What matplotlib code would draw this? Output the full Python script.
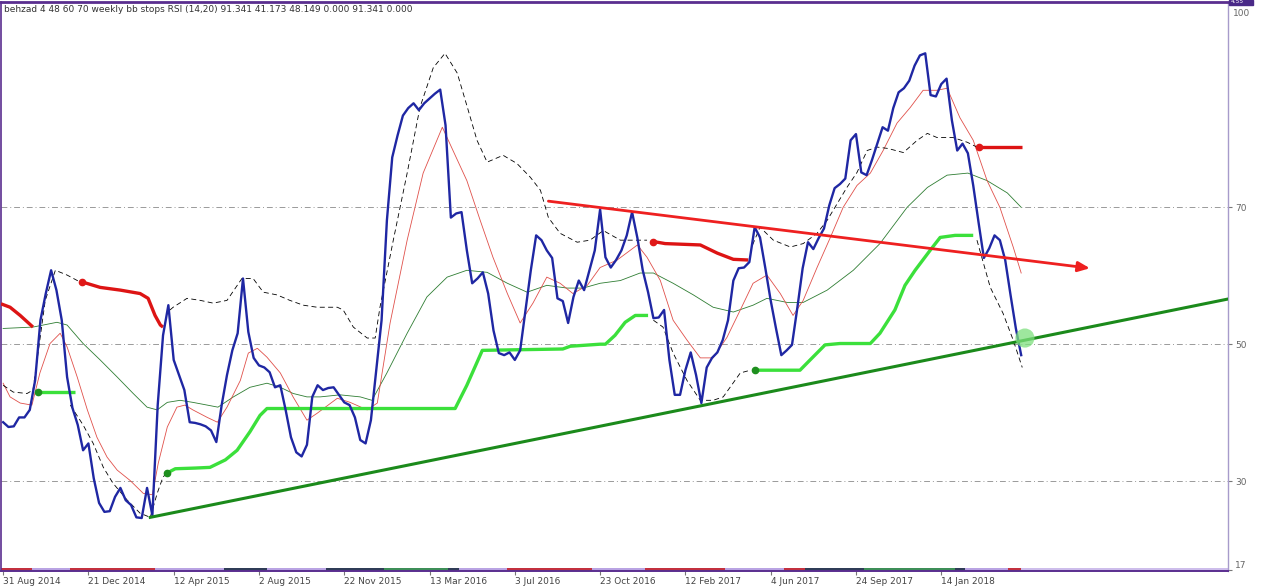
import numpy as np
import pandas as pd
import matplotlib
matplotlib.use("Agg")
import matplotlib.pyplot as plt
from matplotlib.patches import Rectangle

title = "behzad 4 48 60 70 weekly bb stops RSI (14,20) 91.341 41.173 48.149 0.000 91.341 0.000"
start_date = pd.Timestamp("2014-08-31")

# weekly RSI, one value per bar
rsi = [38.6, 37.9, 38.0, 39.3, 39.3, 40.4, 44.7, 53.5, 57.4, 60.8,
       57.9, 53.5, 45.2, 40.7, 38.2, 34.5, 35.5, 30.4, 26.8, 25.5,
       25.6, 27.7, 29.0, 27.2, 26.5, 24.7, 24.6, 29.0, 25.0, 41.1,
       51.3, 55.7, 47.7, 45.5, 43.3, 38.6, 38.5, 38.3, 38.0, 37.4,
       35.7, 41.1, 45.5, 49.1, 51.6, 59.6, 51.8, 48.0, 46.9, 46.6,
       45.9, 43.7, 44.0, 40.4, 36.4, 34.2, 33.6, 35.3, 42.3, 44.0,
       43.3, 43.6, 43.7, 42.6, 41.5, 41.1, 39.3, 36.0, 35.5, 38.9,
       46.2, 53.5, 68.1, 77.3, 80.5, 83.4, 84.5, 85.2, 84.2, 85.2,
       85.9, 86.6, 87.2, 82.0, 68.5, 69.1, 69.3, 63.7, 58.9, 59.6,
       60.5, 57.4, 52.0, 48.7, 48.4, 48.8, 47.7, 49.1, 55.0, 60.8,
       65.9, 65.2, 63.7, 62.6, 56.7, 56.3, 53.1, 56.9, 59.3, 57.9,
       60.8, 63.7, 69.7, 62.7, 61.2, 62.3, 63.7, 65.9, 69.3, 65.5,
       60.8, 57.6, 53.8, 53.9, 55.0, 47.7, 42.6, 42.6, 46.2, 48.8,
       45.5, 41.4, 46.6, 48.0, 48.8, 50.6, 53.5, 59.3, 61.1, 61.2,
       62.0, 67.1, 65.6, 61.1, 56.4, 52.3, 48.4, 49.1, 49.9, 55.3,
       61.1, 64.9, 63.9, 65.5, 66.9, 70.3, 72.8, 73.4, 74.2, 79.8,
       80.7, 75.1, 74.7, 76.9, 79.3, 81.7, 81.2, 84.5, 86.8, 87.4,
       88.5, 90.7, 92.2, 92.5, 86.4, 86.2, 88.0, 88.8, 82.7, 78.3,
       79.3, 77.9, 73.2, 67.8, 62.6, 64.0, 65.9, 65.2, 62.3, 57.2,
       52.3, 48.4]

# fast average of RSI (red thin)
fast_w = [0, 1.3, 3.2, 5.4, 6.9, 8.8, 10.7, 12, 13.9, 15.8, 17.6, 19.5, 21.4, 23.8,
          26.3, 28, 29.1, 30.8, 32.6, 34.1, 35.6, 38.3, 40.2, 42, 44.5, 46, 47.7, 49.5,
          52, 54.4, 57, 58.9, 62.7, 65.1, 68.3, 70.2, 72.6, 75.8, 78.8, 82.4, 84.4, 87,
          89.5, 91.9, 94.6, 97, 99.4, 102, 104.5, 106.9, 109.6, 112, 115.2, 119, 120.8,
          123.3, 125.7, 128.3, 130.8, 133.2, 135.8, 138.3, 140.7, 143.3, 145.8, 148.2,
          150.1, 152.7, 155.2, 157.6, 160.2, 162.7, 165.1, 167.7, 170.2, 172.6, 175.2,
          177.1, 179.5, 182, 184.6, 187, 189.5, 191]
fast_v = [44.3, 42.3, 41.4, 41.1, 45.8, 50.1, 51.6, 49.6, 45.2, 40.4, 36.4, 33.5, 31.6, 30.1,
          28.2, 28.0, 32.6, 37.9, 40.8, 41.1, 40.4, 39.3, 38.6, 40.8, 44.7, 48.7, 49.4, 48.1,
          45.8, 42.3, 38.9, 39.9, 42.1, 41.5, 40.4, 41.4, 53.1, 65.2, 75.0, 81.7, 78.3, 73.9,
          68.1, 62.7, 57.4, 53.1, 56.0, 59.8, 58.9, 57.4, 58.6, 61.2, 62.3, 64.5, 62.7,
          59.3, 53.5, 50.6, 48.0, 48.0, 51.0, 55.0, 58.9, 60.1, 57.4, 54.2,
          56.4, 61.2, 65.6, 70.0, 73.2, 75.0, 78.3, 82.3, 84.6, 87.1, 87.1,
          87.4, 83.1, 79.8, 73.9, 70.0, 64.2, 60.4]

# slow average of RSI (green thin)
slow_w = [0, 5.6, 10.1, 12, 15, 18.2, 21.4, 24.4, 27, 28.9, 30.8, 33.2, 35.6, 38.3, 40.3,
          43.2, 46.3, 49.5, 52, 54.4, 57, 59.5, 63.2, 67, 69.2, 72, 75.8, 79.5, 83.3, 87,
          90.8, 94.6, 98.3, 102, 105.8, 108.8, 112, 115.8, 119.5, 122, 125.7, 129.5, 133.2,
          137, 140.7, 143.3, 147.1, 150.1, 154.6, 159.5, 164.5, 169.6, 173.4, 177.1, 181,
          184.6, 188.4, 191]
slow_v = [52.3, 52.5, 53.2, 52.8, 50.1, 47.7, 45.2, 42.8, 40.8, 40.4, 41.5, 41.8, 41.5, 41.1,
          40.8, 42.3, 43.7, 44.3, 43.7, 42.8, 42.3, 42.3, 42.6, 42.3, 41.8, 45.8, 51.6, 56.9,
          59.8, 60.8, 60.5, 58.9, 57.6, 58.6, 58.2, 58.2, 58.9, 59.3, 60.4, 60.4, 58.9, 57.2,
          55.4, 54.7, 55.7, 56.7, 56.1, 56.1, 57.9, 60.8, 64.7, 70.0, 72.9, 74.7, 75.0,
          73.9, 72.1, 70.0]

# bollinger band pieces (black dashed)
bb_segments = [
    ([0, 1.9, 4.5, 5.6, 7.9, 9.8, 12, 14.4],
     [44.0, 43.0, 42.8, 43.3, 56.4, 60.8, 60.1, 59.1]),
    ([12.6, 15, 16.9, 18.8, 20.6, 23.3, 25.7, 27.6, 28.9, 30, 30.8],
     [41.1, 38.2, 35.5, 32.0, 29.7, 27.2, 25.3, 24.7, 28.2, 30.6, 31.2]),
    ([31.3, 31.9, 34.5, 37, 39.4, 42, 44.8, 46.9, 48.8, 51.4, 53.8, 56.3, 58.9, 62.7,
      63.8, 65.7, 68.3, 69.8, 70.7, 73.2, 75.8, 78.2, 80.7, 82.9, 85.2, 87.1, 88.9,
      90.8, 93.8, 96.4, 98.9, 100.8, 102.3, 104.5, 107.7, 110.1, 112.6, 115.8, 118.2, 120.8],
     [55.0, 55.4, 56.7, 56.4, 56.0, 56.4, 59.6, 59.6, 57.6, 57.2, 56.4, 55.7, 55.4, 55.4,
      55.0, 52.5, 50.9, 50.9, 55.4, 65.2, 75.0, 84.6, 90.4, 92.5, 89.6, 84.6, 79.8,
      76.6, 77.6, 76.4, 74.4, 72.5, 68.5, 66.2, 64.9, 65.2, 66.6, 65.2, 65.2, 65.2]),
    ([122, 123.8, 125.7, 128.3, 130.8, 133.2, 135.1, 138.3, 140.2],
     [53.5, 52.5, 48.7, 44.7, 41.8, 41.8, 42.3, 45.8, 46.2]),
    ([140.6, 142, 144.5, 147.7, 150.1, 152.7, 154.6, 158.3, 160.2, 162.1, 164, 166, 168.9,
      171.5, 173.4, 175.2, 178.2, 180.9, 182.7],
     [64.5, 67.1, 65.2, 64.2, 64.7, 66.2, 68.1, 72.9, 75.1, 78.3, 78.8, 78.6, 78.0,
      79.8, 80.8, 80.2, 80.2, 79.5, 78.8]),
    ([182.7, 185.2, 187.6, 189.5, 191.2],
     [65.2, 58.3, 54.5, 50.6, 46.6]),
]

# support stops (thick lime) and resistance stops (thick red)
support_stops = [
    ([6.6, 13.5], [43.0, 43.0]),
    ([30.8, 32.3, 36, 38.8, 41.7, 43.9, 46.3, 48.2, 49.5, 84.8, 87, 89.9, 105, 106.4,
      112, 113, 114.8, 116.7, 118.6, 121],
     [31.2, 31.8, 31.9, 32.0, 33.1, 34.5, 37.2, 39.6, 40.6, 40.6, 44.0, 49.1, 49.3, 49.7,
      50.0, 50.0, 51.3, 53.2, 54.2, 54.2]),
    ([141.1, 149.5, 151.4, 154.2, 157, 162.7, 164.5, 167.3, 169.2, 171.1, 173.9, 175.8,
      178.6, 182],
     [46.2, 46.2, 47.7, 49.9, 50.1, 50.1, 51.6, 55.0, 58.6, 60.8, 63.7, 65.6, 65.9, 65.9]),
]
resist_stops = [
    ([-0.4, 1.3, 3.2, 5.6], [55.9, 55.4, 54.2, 52.5]),
    ([14.8, 18.2, 22, 25.7, 27.2, 28.5, 29.5, 30], [59.1, 58.3, 57.9, 57.4, 56.7, 54.2, 52.8, 52.5]),
    ([122, 124.2, 130.8, 134, 137, 139.8], [65.0, 64.7, 64.5, 63.3, 62.4, 62.3]),
    ([183.1, 191.2], [78.8, 78.8]),
]
resist_has_dot = [False, True, True, True]

# hand drawn trend lines
red_trend_w = [102.3, 203.9]
red_trend_v = [70.9, 61.1]
green_trend_w = [27.6, 229.8]
green_trend_v = [24.7, 56.6]
marker_point = (191.7, 50.9)

levels = [70, 50, 30]

# state strip along the bottom
strip_start = [0, 6, 13, 29, 42, 50, 61, 72, 84, 86, 95, 111, 121, 136, 147, 151, 162, 179, 181, 189]
strip_state = ["r", "l", "r", "l", "d", "l", "d", "g", "d", "l", "r", "l", "r", "l", "r", "d", "g", "d", "l", "r"]
strip_colors = {"r": "#C3303F", "l": "#B9A3E3", "d": "#2F3C57", "g": "#3E8E58"}

tick_weeks = list(range(0, 177, 16))

fig = plt.figure(figsize=(12.8, 5.87), dpi=100)
ax = fig.add_axes([1 / 1280, 16 / 587, 1227 / 1280, 569 / 587])
ax.set_xlim(-0.4, 229.8)
ax.set_ylim(16.86, 100)

for lv in levels:
    ax.axhline(lv, color="#9a9a9a", lw=0.7, ls=(0, (6, 3, 1, 3)), zorder=1)

# bottom strip
ax.axhspan(16.86, 17.35, color="#CDBDEB", lw=0, zorder=1)
ends = strip_start[1:] + [191.5]
for s, e, st in zip(strip_start, ends, strip_state):
    ax.broken_barh([(s - 0.5, e - s)], (16.86, 0.5), color=strip_colors[st], lw=0, zorder=2)

ax.plot(slow_w, slow_v, color="#2E7D32", lw=0.6, zorder=3)
ax.plot(fast_w, fast_v, color="#E0504A", lw=0.6, zorder=3)
for w, v in bb_segments:
    ax.plot(w, v, color="black", lw=0.6, ls=(0, (6, 4)), zorder=3)

for w, v in support_stops:
    ax.plot(w, v, color="#3BE03B", lw=2.4, solid_capstyle="butt", zorder=4)
    ax.plot(w[0], v[0], "o", color="#1E8F1E", ms=4.5, zorder=5)
for (w, v), dot in zip(resist_stops, resist_has_dot):
    ax.plot(w, v, color="#DD1414", lw=2.4, solid_capstyle="butt", zorder=4)
    if dot:
        ax.plot(w[0], v[0], "o", color="#E01818", ms=4.5, zorder=5)

weeks = np.arange(len(rsi))
ax.plot(weeks, rsi, color="#1F27A3", lw=1.7, zorder=6)

ax.plot(green_trend_w, green_trend_v, color="#1B8A1B", lw=2.2, zorder=7)
ax.annotate("", xy=(red_trend_w[1], red_trend_v[1]), xytext=(red_trend_w[0], red_trend_v[0]),
            arrowprops=dict(arrowstyle="-|>,head_length=0.7,head_width=0.3",
                            color="#EE2020", lw=2.0, shrinkA=0, shrinkB=0), zorder=7)
ax.scatter([marker_point[0]], [marker_point[1]], s=190, color="#7EE07E", alpha=0.75,
           edgecolors="none", zorder=8)

# axes frame like the terminal window
for side in ["top", "left", "bottom"]:
    ax.spines[side].set_color("#5A2E8F")
ax.spines["top"].set_linewidth(2)
ax.spines["left"].set_linewidth(1.2)
ax.spines["bottom"].set_linewidth(1.4)
ax.spines["right"].set_color("#A79BCB")
ax.spines["right"].set_linewidth(1)

ax.yaxis.tick_right()
ax.set_yticks([100, 70, 50, 30, 17])
ax.set_yticklabels(["", "70", "50", "30", "17"])
ax.tick_params(axis="y", length=3, pad=2, labelsize=6.5, colors="#777777", labelcolor="#666666")
for lbl in ax.get_yticklabels():
    if lbl.get_text() == "17":
        lbl.set_va("bottom")
ax.annotate("100", xy=(1, 100), xycoords=("axes fraction", "data"), xytext=(3.6, -5),
            textcoords="offset points", va="top", ha="left", fontsize=6.5, color="#666666")

tick_dates = [start_date + pd.Timedelta(weeks=w) for w in tick_weeks]
ax.set_xticks(tick_weeks)
ax.set_xticklabels([f"{d.day} {d:%b %Y}" for d in tick_dates], ha="left")
ax.tick_params(axis="x", length=3, pad=1.5, labelsize=6.5, colors="#777777", labelcolor="#444444")

fig.text(4 / 1280, 1 - 10 / 587, title, fontsize=6.5, color="#333333", va="center")
fig.patches.append(Rectangle((1229 / 1280, 1 - 5 / 587), 24 / 1280, 5 / 587,
                             transform=fig.transFigure, color="#4A2A88", zorder=10))
fig.text(1231 / 1280, 1 - 1.5 / 587, "4.55", fontsize=4.2, color="white", va="center", zorder=11)

fig.savefig("out.png", dpi=100, facecolor="white")
